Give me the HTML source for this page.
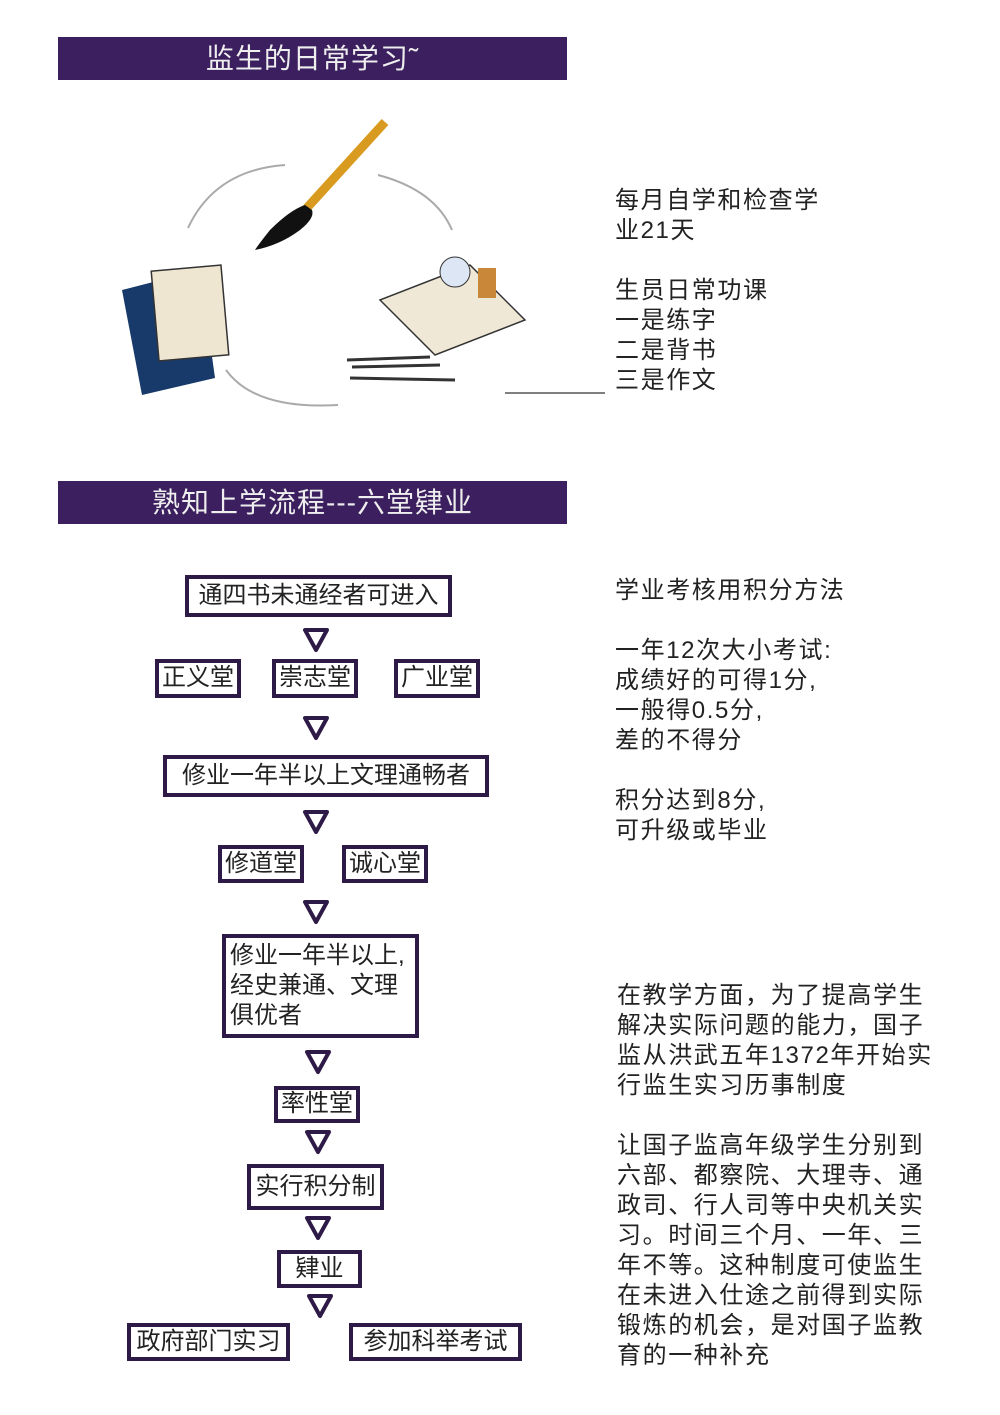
<!DOCTYPE html>
<html><head><meta charset="utf-8"><style>
body{margin:0;background:#fff;}
.p{position:relative;width:1000px;height:1415px;overflow:hidden;background:#fff;font-family:"Liberation Sans","Noto Sans CJK SC",sans-serif;color:#222;}
.h{position:absolute;left:58px;width:509px;height:43px;background:#3b1f5e;color:#eee;font-size:28px;line-height:43px;text-align:center;letter-spacing:1px;}
.b{position:absolute;border:4px solid #2e1a47;box-sizing:border-box;font-size:24px;line-height:1.2;text-align:center;display:flex;align-items:center;justify-content:center;color:#222;background:#fff;}
.t{position:absolute;font-size:24px;line-height:30px;letter-spacing:1.6px;white-space:pre;color:#222;}
</style></head><body><div class="p">
<div class="h" style="top:37px">监生的日常学习˜</div>
<div class="h" style="top:481px">熟知上学流程---六堂肄业</div>

<svg style="position:absolute;left:0;top:0" width="1000" height="1415">
<g fill="none" stroke="#aaa" stroke-width="2">
<path d="M188 228 Q215 170 285 165"/>
<path d="M378 175 Q435 190 452 230"/>
<path d="M226 370 Q255 410 338 405"/>
</g>
<line x1="505" y1="393" x2="605" y2="393" stroke="#555" stroke-width="1.5"/>
<line x1="385" y1="122" x2="305" y2="210" stroke="#d99a20" stroke-width="9"/>
<path d="M305 205 Q290 210 270 230 Q258 245 255 250 Q280 245 300 230 Q315 218 312 210Z" fill="#111"/>
<polygon points="122,290 200,270 215,378 142,395" fill="#173a6b"/>
<rect x="155" y="268" width="70" height="90" fill="#efe6d2" stroke="#333" stroke-width="1.5" transform="rotate(-5 190 313)"/>
<polygon points="380,300 470,265 525,320 435,355" fill="#efe8d6" stroke="#333" stroke-width="1.5"/>
<circle cx="455" cy="272" r="15" fill="#dde6f5" stroke="#333"/>
<rect x="478" y="268" width="18" height="30" fill="#c9873a"/>
<g stroke="#333" stroke-width="3"><line x1="347" y1="360" x2="430" y2="357"/><line x1="352" y1="367" x2="440" y2="365"/><line x1="350" y1="378" x2="455" y2="380"/></g>
<g fill="#fff" stroke="#2e1a47" stroke-width="4" stroke-linejoin="round">
<polygon points="305,630 327,630 316,650"/>
<polygon points="305,718 327,718 316,738"/>
<polygon points="305,812 327,812 316,832"/>
<polygon points="305,902 327,902 316,922"/>
<polygon points="307,1052 329,1052 318,1072"/>
<polygon points="307,1132 329,1132 318,1152"/>
<polygon points="307,1218 329,1218 318,1238"/>
<polygon points="309,1296 331,1296 320,1316"/>
</g>
</svg>

<div class="b" style="left:185px;top:575px;width:267px;height:42px">通四书未通经者可进入</div>
<div class="b" style="left:155px;top:659px;width:86px;height:39px">正义堂</div>
<div class="b" style="left:272px;top:659px;width:86px;height:39px">崇志堂</div>
<div class="b" style="left:394px;top:659px;width:86px;height:39px">广业堂</div>
<div class="b" style="left:163px;top:755px;width:326px;height:42px">修业一年半以上文理通畅者</div>
<div class="b" style="left:218px;top:845px;width:86px;height:38px">修道堂</div>
<div class="b" style="left:342px;top:845px;width:86px;height:38px">诚心堂</div>
<div class="b" style="left:222px;top:934px;width:197px;height:104px;justify-content:flex-start;text-align:left;padding-left:4px;line-height:30px">修业一年半以上,<br>经史兼通、文理<br>俱优者</div>
<div class="b" style="left:274px;top:1086px;width:86px;height:37px">率性堂</div>
<div class="b" style="left:247px;top:1164px;width:137px;height:46px">实行积分制</div>
<div class="b" style="left:277px;top:1250px;width:85px;height:38px">肄业</div>
<div class="b" style="left:127px;top:1323px;width:163px;height:38px">政府部门实习</div>
<div class="b" style="left:349px;top:1323px;width:173px;height:38px">参加科举考试</div>

<div class="t" style="left:615px;top:186px">每月自学和检查学
业21天

生员日常功课
一是练字
二是背书
三是作文</div>
<div class="t" style="left:615px;top:576px">学业考核用积分方法

一年12次大小考试:
成绩好的可得1分,
一般得0.5分,
差的不得分

积分达到8分,
可升级或毕业</div>
<div class="t" style="left:617px;top:981px">在教学方面，为了提高学生
解决实际问题的能力，国子
监从洪武五年1372年开始实
行监生实习历事制度

让国子监高年级学生分别到
六部、都察院、大理寺、通
政司、行人司等中央机关实
习。时间三个月、一年、三
年不等。这种制度可使监生
在未进入仕途之前得到实际
锻炼的机会，是对国子监教
育的一种补充</div>
</div></body></html>
